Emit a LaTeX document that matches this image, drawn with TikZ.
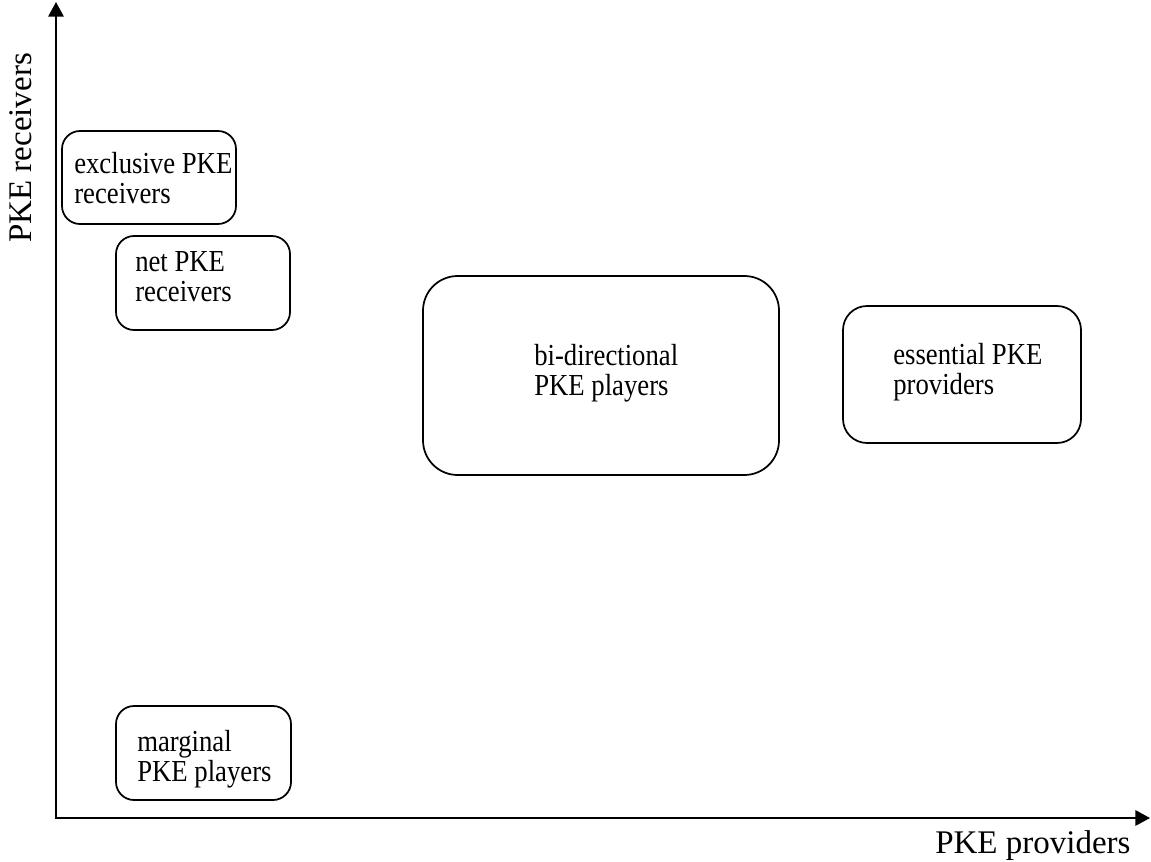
\documentclass[tikz,border=0pt]{standalone}
\usepackage{fontspec}
\setmainfont{Liberation Serif}
\newfontfamily\boxfont[FakeStretch=0.875]{Liberation Serif}
\usetikzlibrary{arrows.meta}
\tikzset{
  axis/.style={line width=1.6pt,{Triangle[length=11pt,width=11.5pt]}-{Triangle[length=11pt,width=11.5pt]}},
  kbox/.style={line width=1.3pt},
  ktext/.style={inner sep=0pt,anchor=base west,align=left,font=\boxfont\fontsize{22.9}{22.5}\selectfont},
  axlabel/.style={inner sep=0pt,anchor=base west,font=\fontsize{24.75}{28}\selectfont}
}
\begin{document}
\begin{tikzpicture}[x=0.75pt,y=-0.75pt]
\useasboundingbox (0,0) rectangle (1151,862);
% axes
\coordinate (o) at (56,818);
\coordinate (ytip) at (56,2);
\coordinate (xtip) at (1150,818);
\draw[axis] (ytip) -- (o) -- (xtip);
\node[axlabel,rotate=90] (ylab) at (31.5,243) {PKE receivers};
\node[axlabel] (xlab) at (935,853) {PKE providers};
% boxes (text node placed at baseline of its last line)
\draw[kbox,rounded corners=13.5pt] (62,131) rectangle (236,224);
\node[ktext] (excl) at (74,204) {exclusive PKE\\receivers};
\draw[kbox,rounded corners=13.5pt] (116,236) rectangle (290,330);
\node[ktext] (net) at (135,302) {net PKE\\receivers};
\draw[kbox,rounded corners=26pt] (423,276) rectangle (779,475);
\node[ktext] (bidir) at (534,395) {bi-directional\\PKE players};
\draw[kbox,rounded corners=18pt] (843,306) rectangle (1081,443);
\node[ktext] (essent) at (893,394) {essential PKE\\providers};
\draw[kbox,rounded corners=13.5pt] (116,706) rectangle (291,800);
\node[ktext] (marg) at (137,781) {marginal\\PKE players};
\end{tikzpicture}
\end{document}
